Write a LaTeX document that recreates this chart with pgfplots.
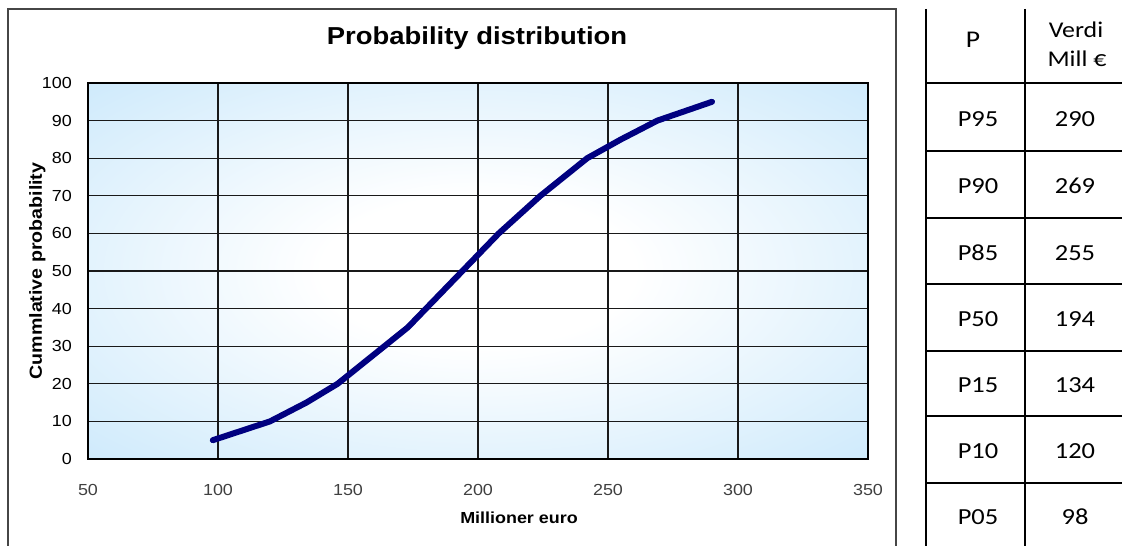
\documentclass[border=0pt]{standalone}
\usepackage{pgfplots}
\pgfplotsset{compat=1.18}
\usepackage{fontspec}
\setmainfont{Liberation Sans}[FakeStretch=1.12]
\newfontfamily\calibri{Carlito}[FakeStretch=1.15]
\definecolor{bgblue}{RGB}{202,232,251}
\definecolor{navyline}{RGB}{0,0,128}
\definecolor{frame}{RGB}{70,70,70}
\pgfdeclareradialshading{plotbg}{\pgfpoint{0bp}{0bp}}{color(0bp)=(white); color(10bp)=(white); color(38bp)=(bgblue); color(100bp)=(bgblue)}

\begin{document}
\begin{tikzpicture}[x=1pt,y=1pt]
\path[use as bounding box] (0,0) rectangle (1122,546);
\draw[frame, line width=1.5pt] (8,537) rectangle (896,-10);
\begin{axis}[
  at={(88pt,87pt)}, anchor=south west, scale only axis,
  width=780pt, height=376pt,
  xmin=50, xmax=350, ymin=0, ymax=100,
  xtick={50,100,...,350}, ytick={0,10,...,100},
  grid=major, major grid style={black!90, line width=1.1pt},
  axis line style={black, line width=1.4pt},
  major tick length=0pt,
  axis background/.style={shade, shading=plotbg},
  /pgf/number format/assume math mode=true,
  ticklabel style={font=\fontsize{16}{19}\selectfont},
  xticklabel style={anchor=base, yshift=-37pt, text=black!75},
  yticklabel style={anchor=east, inner sep=0pt, xshift=-16pt, text=black},
]
\addplot[navyline, line width=6pt, line cap=round, line join=round] coordinates {
(98,5) (120,10) (134,15) (146,20) (155,25) (164,30) (173,35) (180,40) (187,45)
(194,50) (201,55) (208,60) (216,65) (224,70) (233,75) (242,80) (255,85) (269,90) (290,95)
};
\end{axis}
\node[font=\bfseries\fontsize{24.5}{30}\selectfont, anchor=base] at (477,501) {Probability distribution};
\node[font=\bfseries\fontsize{16}{19}\selectfont, anchor=base] at (519,22) {Millioner euro};
\node[font=\bfseries\fontsize{17.5}{21}\selectfont, anchor=base, rotate=90] at (42,275) {Cummlative probability};
% table
\draw[black, line width=1.3pt] (926,537) -- (926,-10);
\draw[black, line width=1.3pt] (1025,537) -- (1025,-10);
\foreach \yy in {463,395,328,262,195,130,63} {
  \draw[black, line width=1.3pt] (926,\yy) -- (1130,\yy);
}
\node[font=\calibri\fontsize{24}{28}\selectfont, anchor=base] at (973,498) {P};
\node[font=\calibri\fontsize{22.5}{25}\selectfont, anchor=base] at (1076,508) {Verdi};
\node[font=\calibri\fontsize{22.5}{25}\selectfont, anchor=base] at (1077,479) {Mill €};
\foreach \lab/\val/\yb in {P95/290/419, P90/269/352, P85/255/285, P50/194/219, P15/134/153, P10/120/87, P05/98/21} {
  \node[font=\calibri\fontsize{23}{28}\selectfont, anchor=base] at (978,\yb) {\lab};
  \node[font=\calibri\fontsize{23}{28}\selectfont, anchor=base] at (1075,\yb) {\val};
}
\end{tikzpicture}
\end{document}
